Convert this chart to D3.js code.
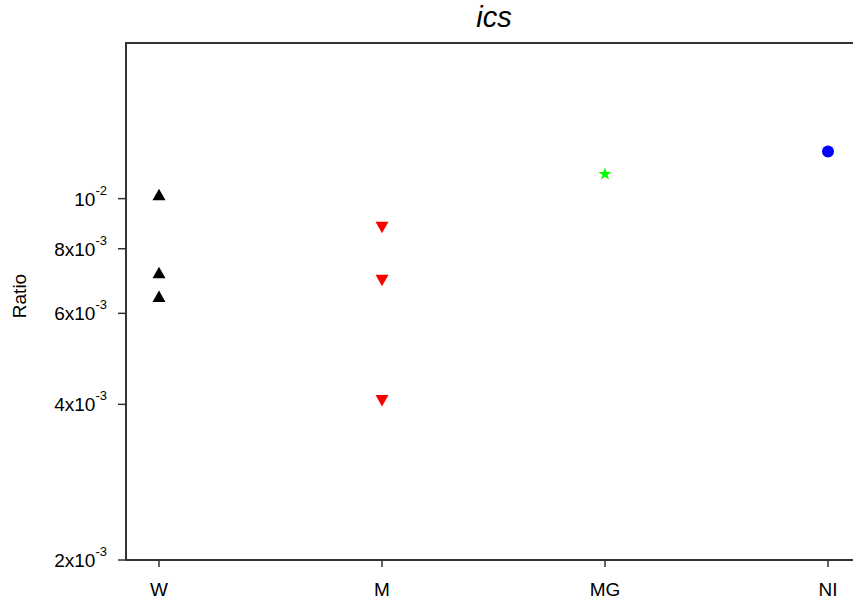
<!DOCTYPE html>
<html>
<head>
<meta charset="utf-8">
<script src="https://cdn.jsdelivr.net/npm/d3@7"></script>
<style>
  html, body { margin: 0; padding: 0; background: #fff; }
  svg { display: block; font-family: "Liberation Sans", Arial, sans-serif; }
</style>
</head>
<body>
<svg id="chart" width="853" height="603"></svg>
<script>
// Groups on the x axis
const categories = ["W", "M", "MG", "NI"];

// Measured ratios per group
const valuesW  = [0.01018, 0.00719, 0.00647];
const valuesM  = [0.00880, 0.00695, 0.00407];
const valuesMG = [0.01115];
const valuesNI = [0.01234];

// Y tick values and their labels (mantissa, exponent)
const yTicks = [0.002, 0.004, 0.006, 0.008, 0.01];
const yTickMantissa = ["2x10", "4x10", "6x10", "8x10", "10"];
const yTickExponent = ["-3", "-3", "-3", "-3", "-2"];

const chartTitle = "ics";
const yTitle = "Ratio";

const svg = d3.select("#chart");
const plotLeft = 126, plotTop = 43, plotBottom = 560, plotRight = 861;

const x = d3.scalePoint()
  .domain(categories)
  .range([plotLeft, plotRight])
  .padding(0.148);

const y = d3.scaleLog()
  .domain([0.002, 0.02])
  .range([plotBottom, plotTop]);

const axisColor = "#333";

// Frame: left and top border plus the x axis line
svg.append("path")
  .attr("d", `M${plotLeft},${plotBottom}V${plotTop}H${855}`)
  .attr("fill", "none").attr("stroke", axisColor).attr("stroke-width", 2);
svg.append("line")
  .attr("x1", plotLeft - 1).attr("x2", 855)
  .attr("y1", plotBottom).attr("y2", plotBottom)
  .attr("stroke", axisColor).attr("stroke-width", 2);

// Y axis ticks and labels
const yg = svg.append("g");
yTicks.forEach((t, i) => {
  const yy = y(t);
  yg.append("line")
    .attr("x1", plotLeft - 8).attr("x2", plotLeft)
    .attr("y1", yy).attr("y2", yy)
    .attr("stroke", axisColor).attr("stroke-width", 1.5);
  const txt = yg.append("text")
    .attr("x", 107).attr("y", yy + 7)
    .attr("text-anchor", "end")
    .attr("font-size", 19)
    .attr("fill", "#000");
  txt.append("tspan").text(yTickMantissa[i]);
  txt.append("tspan")
    .attr("font-size", 13)
    .attr("dy", -11)
    .text(yTickExponent[i]);
});

// X axis ticks and labels
const xg = svg.append("g");
categories.forEach(c => {
  const xx = x(c);
  xg.append("line")
    .attr("x1", xx).attr("x2", xx)
    .attr("y1", plotBottom).attr("y2", plotBottom + 7)
    .attr("stroke", axisColor).attr("stroke-width", 1.5);
  xg.append("text")
    .attr("x", xx).attr("y", 596)
    .attr("text-anchor", "middle")
    .attr("font-size", 19)
    .attr("fill", "#000")
    .text(c);
});

// Titles
svg.append("text")
  .attr("x", 494).attr("y", 27)
  .attr("text-anchor", "middle")
  .attr("font-size", 29)
  .attr("font-style", "italic")
  .text(chartTitle);

svg.append("text")
  .attr("transform", `translate(26,296) rotate(-90)`)
  .attr("text-anchor", "middle")
  .attr("font-size", 19)
  .text(yTitle);

// Marker shapes
const triUp = "M0,-6L6.5,5.5L-6.5,5.5Z";
const triDown = "M0,6L6.5,-5.5L-6.5,-5.5Z";

svg.append("g").selectAll("path")
  .data(valuesW).join("path")
  .attr("d", triUp)
  .attr("transform", d => `translate(${x("W")},${y(d)})`)
  .attr("fill", "#000");

svg.append("g").selectAll("path")
  .data(valuesM).join("path")
  .attr("d", triDown)
  .attr("transform", d => `translate(${x("M")},${y(d)})`)
  .attr("fill", "#ff0000");

svg.append("g").selectAll("path")
  .data(valuesMG).join("path")
  .attr("d", d3.symbol().type(d3.symbolStar).size(55))
  .attr("transform", d => `translate(${x("MG")},${y(d)})`)
  .attr("fill", "#00ff00");

svg.append("g").selectAll("circle")
  .data(valuesNI).join("circle")
  .attr("cx", x("NI"))
  .attr("cy", d => y(d))
  .attr("r", 6)
  .attr("fill", "#0000ff");
</script>
</body>
</html>
